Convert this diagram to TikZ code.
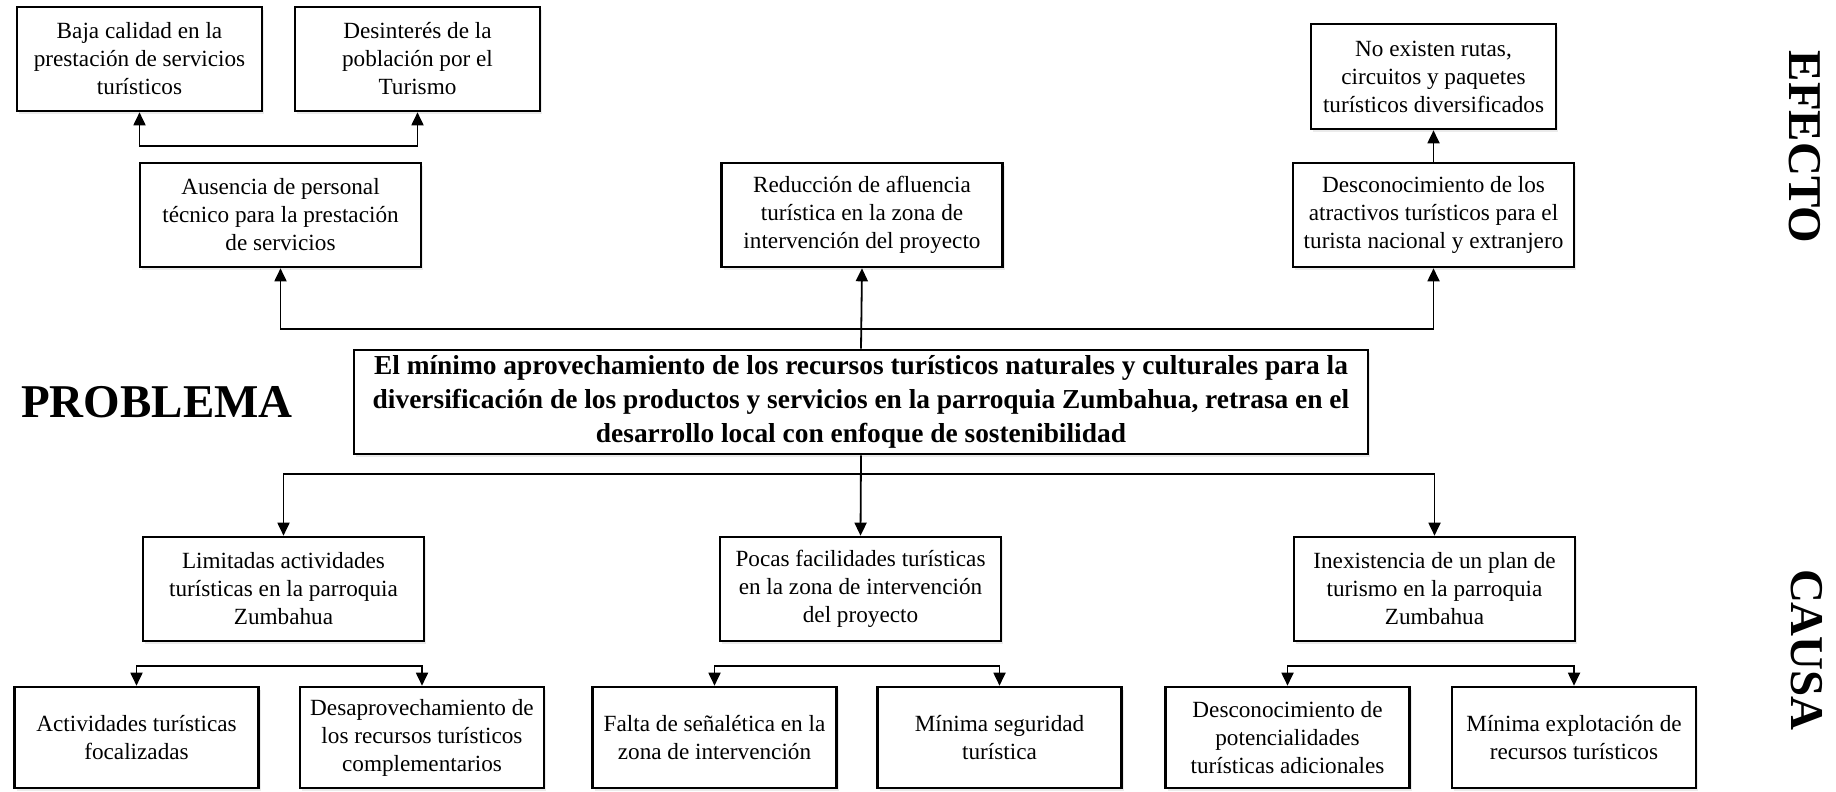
\documentclass[tikz,border=0pt]{standalone}
\usepackage{fontspec}
\setmainfont{Liberation Serif}
\usetikzlibrary{arrows.meta,shadows}
\begin{document}
\begin{tikzpicture}[x=0.5pt,y=-0.5pt,
 box/.style={draw, line width=1.3pt, fill=white, align=center, inner sep=0pt,
   font=\fontsize{11.6pt}{14pt}\selectfont,
   drop shadow={fill=black, opacity=0.08, shadow xshift=1pt, shadow yshift=-1.5pt}},
 wbox/.style={box, minimum width=140.5pt, minimum height=52pt},
 sbox/.style={box, minimum width=122.5pt, minimum height=52pt},
 bbox/.style={box, minimum width=122pt, minimum height=50.5pt},
 arr/.style={line width=0.9pt, -{Triangle[length=6.5pt,width=6pt]}},
 darr/.style={line width=0.9pt, {Triangle[length=6.5pt,width=6pt]}-{Triangle[length=6.5pt,width=6pt]}},
 side/.style={font=\fontsize{23.5pt}{28pt}\selectfont\bfseries, inner sep=0pt}
]
\useasboundingbox (0,0) rectangle (1836,792);

% effects
\node[sbox] (baja) at (139.5,59) {Baja calidad en la\\prestación de servicios\\turísticos};
\node[sbox] (desi) at (417.5,59) {Desinterés de la\\población por el\\Turismo};
\node[sbox, minimum height=52.5pt] (noex) at (1433.5,76.5) {No existen rutas,\\circuitos y paquetes\\turísticos diversificados};
\node[wbox] (aus) at (280.5,215) {Ausencia de personal\\técnico para la prestación\\de servicios};
\node[wbox] (red) at (862,215) {Reducción de afluencia\\turística en la zona de\\intervención del proyecto};
\node[wbox] (desc) at (1433.5,215) {Desconocimiento de los\\atractivos turísticos para el\\turista nacional y extranjero};

% problem
\node[box, minimum width=507pt, minimum height=52pt, font=\fontsize{13.7pt}{17pt}\selectfont\bfseries] (main) at (861,402)
 {El mínimo aprovechamiento de los recursos turísticos naturales y culturales para la\\diversificación de los productos y servicios en la parroquia Zumbahua, retrasa en el\\desarrollo local con enfoque de sostenibilidad};

% causes
\node[wbox] (lim) at (283.5,589) {Limitadas actividades\\turísticas en la parroquia\\Zumbahua};
\node[wbox] (poc) at (860.5,589) {Pocas facilidades turísticas\\en la zona de intervención\\del proyecto};
\node[wbox] (inex) at (1434.5,589) {Inexistencia de un plan de\\turismo en la parroquia\\Zumbahua};

\node[bbox] (act) at (136.5,737.5) {Actividades turísticas\\focalizadas};
\node[bbox] (desa) at (422,737.5) {Desaprovechamiento de\\los recursos turísticos\\complementarios};
\node[bbox] (fal) at (714.5,737.5) {Falta de señalética en la\\zona de intervención};
\node[bbox] (minseg) at (999.5,737.5) {Mínima seguridad\\turística};
\node[bbox] (despot) at (1287.5,737.5) {Desconocimiento de\\potencialidades\\turísticas adicionales};
\node[bbox] (minexp) at (1574,737.5) {Mínima explotación de\\recursos turísticos};

% side labels
\node[side] (prob) at (157,402) {PROBLEMA};
\node[side, rotate=-90] (efe) at (1805,147) {EFECTO};
\node[side, rotate=-90] (cau) at (1807,650) {CAUSA};

% connectors
\coordinate (jt) at (861,329);
\coordinate (jb) at (861,474);
\coordinate (y1) at (0,146);
\coordinate (y2) at (0,666);

\draw[arr] (main.north) -- (red.south);
\draw[arr] (jt) -| (aus.south);
\draw[arr] (jt) -| (desc.south);
\draw[arr] (desc.north) -- (noex.south);
\draw[darr] (baja.south) -- (baja.south |- y1) -| (desi.south);

\draw[arr] (main.south) -- (poc.north);
\draw[arr] (jb) -| (lim.north);
\draw[arr] (jb) -| (inex.north);
\draw[darr] (act.north) -- (act.north |- y2) -| (desa.north);
\draw[darr] (fal.north) -- (fal.north |- y2) -| (minseg.north);
\draw[darr] (despot.north) -- (despot.north |- y2) -| (minexp.north);
\end{tikzpicture}
\end{document}
